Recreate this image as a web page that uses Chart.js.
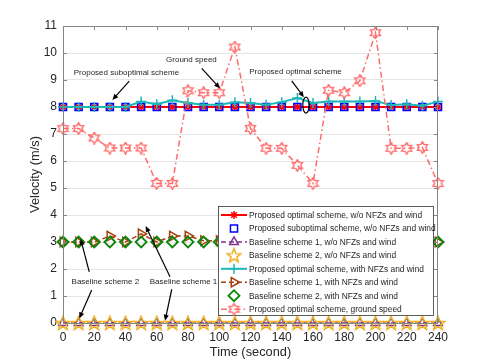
<!DOCTYPE html>
<html>
<head>
<meta charset="utf-8">
<script src="https://cdn.jsdelivr.net/npm/chart.js@4.4.1/dist/chart.umd.min.js"></script>
<style>
  html, body { margin: 0; padding: 0; background: #fff; }
</style>
</head>
<body>
<canvas id="chart" width="485" height="363"></canvas>
<script>
// time axis (seconds)
const timeSec = [0, 10, 20, 30, 40, 50, 60, 70, 80, 90, 100, 110, 120, 130, 140, 150, 160, 170, 180, 190, 200, 210, 220, 230, 240];

// velocities (m/s)
const optNoWind    = [8, 8, 8, 8, 8, 8, 8, 8, 8, 8, 8, 8, 8, 8, 8, 8, 8, 8, 8, 8, 8, 8, 8, 8, 8];
const subOptNoWind = [8, 8, 8, 8, 8, 8, 8, 8, 8, 8, 8, 8, 8, 8, 8, 8, 8, 8, 8, 8, 8, 8, 8, 8, 8];
const base1NoWind  = [0, 0, 0, 0, 0, 0, 0, 0, 0, 0, 0, 0, 0, 0, 0, 0, 0, 0, 0, 0, 0, 0, 0, 0, 0];
const base2NoWind  = [0, 0, 0, 0, 0, 0, 0, 0, 0, 0, 0, 0, 0, 0, 0, 0, 0, 0, 0, 0, 0, 0, 0, 0, 0];
const optWind      = [8.0, 8.0, 8.0, 8.0, 8.0, 8.2, 8.1, 8.25, 8.15, 8.08, 8.08, 8.18, 8.15, 8.08, 8.18, 8.33, 8.15, 8.2, 8.2, 8.2, 8.22, 8.07, 8.1, 8.05, 8.2];
const base1Wind    = [3.0, 3.0, 3.0, 3.22, 3.0, 3.3, 3.0, 3.22, 3.22, 3.05, 3.05, 3.0, 3.1, 3.0, 3.05, 3.0, 3.1, 3.0, 3.0, 3.05, 3.0, 3.1, 3.0, 3.0, 3.0];
const base2Wind    = [3, 3, 3, 3, 3, 3, 3, 3, 3, 3, 3, 3, 3, 3, 3, 3, 3, 3, 3, 3, 3, 3, 3, 3, 3];
const groundSpeed  = [7.2, 7.2, 6.85, 6.48, 6.48, 6.48, 5.17, 5.17, 8.6, 8.53, 8.53, 10.22, 7.21, 6.47, 6.47, 5.84, 5.17, 8.62, 8.53, 8.97, 10.75, 6.47, 6.47, 6.5, 5.17];

const xTickValues = [0, 20, 40, 60, 80, 100, 120, 140, 160, 180, 200, 220, 240];
const yTickValues = [0, 1, 2, 3, 4, 5, 6, 7, 8, 9, 10, 11];

const FONT = '"Liberation Sans", Arial, sans-serif';
Chart.defaults.font.family = FONT;

// markers that chart.js doesn't have
function starMarker(size, color, lw) {
  const c = document.createElement('canvas');
  c.width = c.height = size;
  const g = c.getContext('2d');
  const R = size / 2 - lw / 2, r = R * 0.42;
  g.beginPath();
  for (let i = 0; i < 10; i++) {
    const a = -Math.PI / 2 + i * Math.PI / 5;
    const rad = i % 2 ? r : R;
    const px = size / 2 + rad * Math.cos(a), py = size / 2 + 0.6 + rad * Math.sin(a);
    i ? g.lineTo(px, py) : g.moveTo(px, py);
  }
  g.closePath();
  g.strokeStyle = color; g.lineWidth = lw; g.stroke();
  return c;
}
function hexagramMarker(size, color, lw) {
  const c = document.createElement('canvas');
  c.width = c.height = size;
  const g = c.getContext('2d');
  const R = size / 2 - lw / 2, r = R / Math.sqrt(3);
  g.beginPath();
  for (let i = 0; i < 12; i++) {
    const a = -Math.PI / 2 + i * Math.PI / 6;
    const rad = i % 2 ? r : R;
    const px = size / 2 + rad * Math.cos(a), py = size / 2 + rad * Math.sin(a);
    i ? g.lineTo(px, py) : g.moveTo(px, py);
  }
  g.closePath();
  g.strokeStyle = color; g.lineWidth = lw; g.stroke();
  return c;
}

const pts = arr => timeSec.map((t, i) => ({ x: t, y: arr[i] }));
const clear = 'rgba(0,0,0,0)';

const datasets = [
  { label: 'Proposed optimal scheme, w/o NFZs and wind', data: pts(optNoWind),
    borderColor: '#ff0000', borderWidth: 2, pointStyle: 'star', pointRadius: 4,
    pointBorderColor: '#ff0000', pointBackgroundColor: clear, pointBorderWidth: 1.5 },
  { label: 'Proposed suboptimal scheme, w/o NFZs and wind', data: pts(subOptNoWind), showLine: false,
    borderColor: '#0000ff', pointStyle: 'rect', pointRadius: 5,
    pointBorderColor: '#0000ff', pointBackgroundColor: clear, pointBorderWidth: 1.5 },
  { label: 'Baseline scheme 1, w/o NFZs and wind', data: pts(base1NoWind),
    borderColor: '#7e2f8e', borderWidth: 1.5, borderDash: [5, 3], pointStyle: 'triangle', pointRadius: 5,
    pointBorderColor: '#7e2f8e', pointBackgroundColor: clear, pointBorderWidth: 1.5 },
  { label: 'Baseline scheme 2, w/o NFZs and wind', data: pts(base2NoWind), showLine: false,
    borderColor: '#edb120', pointStyle: starMarker(16, '#edb120', 1.5), pointRadius: 7,
    pointBorderColor: '#edb120', pointBackgroundColor: clear, pointBorderWidth: 1.5 },
  { label: 'Proposed optimal scheme, with NFZs and wind', data: pts(optWind),
    borderColor: '#1cb8b8', borderWidth: 2, pointStyle: 'cross', pointRadius: 5,
    pointBorderColor: '#1cb8b8', pointBackgroundColor: clear, pointBorderWidth: 1.5 },
  { label: 'Baseline scheme 1, with NFZs and wind', data: pts(base1Wind),
    borderColor: '#a8400e', borderWidth: 1.5, borderDash: [5, 3], pointStyle: 'triangle', pointRotation: 90, pointRadius: 5.5,
    pointBorderColor: '#a8400e', pointBackgroundColor: clear, pointBorderWidth: 1.5 },
  { label: 'Baseline scheme 2, with NFZs and wind', data: pts(base2Wind), showLine: false,
    borderColor: '#0a870a', pointStyle: 'rectRot', pointRadius: 5.5,
    pointBorderColor: '#0a870a', pointBackgroundColor: clear, pointBorderWidth: 1.8 },
  { label: 'Proposed optimal scheme, ground speed', data: pts(groundSpeed),
    borderColor: '#ff6b6b', borderWidth: 1.5, borderDash: [6, 3, 1.5, 3], pointStyle: hexagramMarker(13, '#ff6b6b', 1.4), pointRadius: 6,
    pointBorderColor: '#ff6b6b', pointBackgroundColor: clear, pointBorderWidth: 1.5 }
];
datasets.forEach((ds, i) => { ds.order = datasets.length - i; ds.clip = false; ds.tension = 0; ds.fill = false; });

// notes: text + arrows given in data units
const notes = [
  { text: 'Proposed suboptimal scheme', at: [40.6, 9.26], arrows: [[[42.4, 8.96], [31.6, 8.26]]] },
  { text: 'Ground speed', at: [82.2, 9.74], arrows: [[[88.8, 9.43], [100.5, 8.69]]] },
  { text: 'Proposed optimal scheme', at: [148.8, 9.3], arrows: [[[146.4, 8.97], [154.2, 8.36]]] },
  { text: 'Baseline scheme 2', at: [27.1, 1.53], arrows: [[[16.8, 1.89], [11.3, 3.11]], [[18.4, 1.22], [10.4, 0.17]]] },
  { text: 'Baseline scheme 1', at: [77.1, 1.53], arrows: [[[68.5, 1.71], [52.9, 3.59]], [[69.6, 1.25], [65.3, 0.085]]] }
];
const ellipseAt = [155.5, 8.07];

function drawArrow(ctx, x1, y1, x2, y2) {
  const ang = Math.atan2(y2 - y1, x2 - x1), hl = 6, hw = 2.6;
  ctx.beginPath(); ctx.moveTo(x1, y1); ctx.lineTo(x2 - Math.cos(ang) * hl * 0.8, y2 - Math.sin(ang) * hl * 0.8); ctx.stroke();
  ctx.beginPath();
  ctx.moveTo(x2, y2);
  ctx.lineTo(x2 - hl * Math.cos(ang) + hw * Math.sin(ang), y2 - hl * Math.sin(ang) - hw * Math.cos(ang));
  ctx.lineTo(x2 - hl * Math.cos(ang) - hw * Math.sin(ang), y2 - hl * Math.sin(ang) + hw * Math.cos(ang));
  ctx.closePath(); ctx.fill();
}

const overlay = {
  id: 'overlay',
  afterDatasetsDraw(chart) {
    const { ctx, chartArea: a, scales: { x, y } } = chart;
    ctx.save();
    // axes box + inward ticks
    ctx.strokeStyle = '#858585'; ctx.lineWidth = 1;
    ctx.strokeRect(a.left + 0.5, a.top + 0.5, a.right - a.left - 1, a.bottom - a.top);
    ctx.beginPath();
    xTickValues.forEach(v => {
      const px = Math.round(x.getPixelForValue(v)) + 0.5;
      ctx.moveTo(px, a.top); ctx.lineTo(px, a.top + 4);
      ctx.moveTo(px, a.bottom); ctx.lineTo(px, a.bottom - 4);
    });
    yTickValues.forEach(v => {
      const py = Math.round(y.getPixelForValue(v)) + 0.5;
      ctx.moveTo(a.left, py); ctx.lineTo(a.left + 4, py);
      ctx.moveTo(a.right, py); ctx.lineTo(a.right - 4, py);
    });
    ctx.stroke();

    // legend box inside the plot
    const lg = { x: 218, y: 206, w: 215, h: 109, row: 13.45 };
    ctx.fillStyle = '#fff';
    ctx.fillRect(lg.x, lg.y, lg.w, lg.h);
    ctx.strokeStyle = '#333'; ctx.lineWidth = 0.8;
    ctx.strokeRect(lg.x + 0.5, lg.y + 0.5, lg.w, lg.h);
    ctx.font = '8.4px ' + FONT;
    ctx.textBaseline = 'middle'; ctx.textAlign = 'left';
    chart.data.datasets.forEach((ds, i) => {
      const cy = lg.y + 9 + i * lg.row;
      if (ds.showLine !== false) {
        ctx.setLineDash(ds.borderDash || []);
        ctx.strokeStyle = ds.borderColor; ctx.lineWidth = ds.borderWidth;
        ctx.beginPath(); ctx.moveTo(lg.x + 3, cy); ctx.lineTo(lg.x + 29, cy); ctx.stroke();
        ctx.setLineDash([]);
      }
      ctx.strokeStyle = ds.pointBorderColor; ctx.fillStyle = ds.pointBackgroundColor;
      ctx.lineWidth = ds.pointBorderWidth;
      Chart.helpers.drawPoint(ctx, { pointStyle: ds.pointStyle, rotation: ds.pointRotation || 0,
        radius: ds.pointRadius, borderWidth: ds.pointBorderWidth }, lg.x + 16, cy);
      ctx.fillStyle = '#262626';
      ctx.fillText(ds.label, lg.x + 31, cy + 0.5);
    });

    // annotations
    ctx.font = '8px ' + FONT;
    ctx.textAlign = 'center';
    ctx.strokeStyle = '#000'; ctx.fillStyle = '#000'; ctx.lineWidth = 1.2;
    notes.forEach(n => {
      ctx.fillStyle = '#262626';
      ctx.fillText(n.text, x.getPixelForValue(n.at[0]), y.getPixelForValue(n.at[1]));
      ctx.fillStyle = '#000';
      n.arrows.forEach(([p, q]) => drawArrow(ctx,
        x.getPixelForValue(p[0]), y.getPixelForValue(p[1]),
        x.getPixelForValue(q[0]), y.getPixelForValue(q[1])));
    });
    ctx.beginPath();
    ctx.ellipse(x.getPixelForValue(ellipseAt[0]), y.getPixelForValue(ellipseAt[1]), 3.2, 8, 0, 0, Math.PI * 2);
    ctx.stroke();
    ctx.restore();
  }
};

new Chart(document.getElementById('chart'), {
  type: 'line',
  data: { datasets },
  options: {
    responsive: false,
    animation: false,
    layout: { padding: { left: 0, right: 47, top: 26, bottom: 0 } },
    plugins: { legend: { display: false }, tooltip: { enabled: false } },
    scales: {
      x: {
        type: 'linear', min: 0, max: 240,
        afterFit: s => { s.height = 40; },
        afterBuildTicks: s => { s.ticks = xTickValues.map(v => ({ value: v })); },
        ticks: { autoSkip: false, maxRotation: 0, padding: 7, color: '#262626', font: { size: 12 } },
        grid: { display: false, drawTicks: false },
        border: { display: false },
        title: { display: true, text: 'Time (second)', color: '#262626', font: { size: 12.8 }, padding: { top: 0, bottom: 2.5 } }
      },
      y: {
        min: 0, max: 11,
        afterFit: s => { s.width = 63; },
        afterBuildTicks: s => { s.ticks = yTickValues.map(v => ({ value: v })); },
        ticks: { padding: 6, color: '#262626', font: { size: 12 } },
        grid: { color: '#e6e6e6', drawTicks: false },
        border: { display: false },
        title: { display: true, text: 'Velocity (m/s)', color: '#262626', font: { size: 12.8 }, padding: { top: 28, bottom: 0 } }
      }
    }
  },
  plugins: [overlay]
});
</script>
</body>
</html>
